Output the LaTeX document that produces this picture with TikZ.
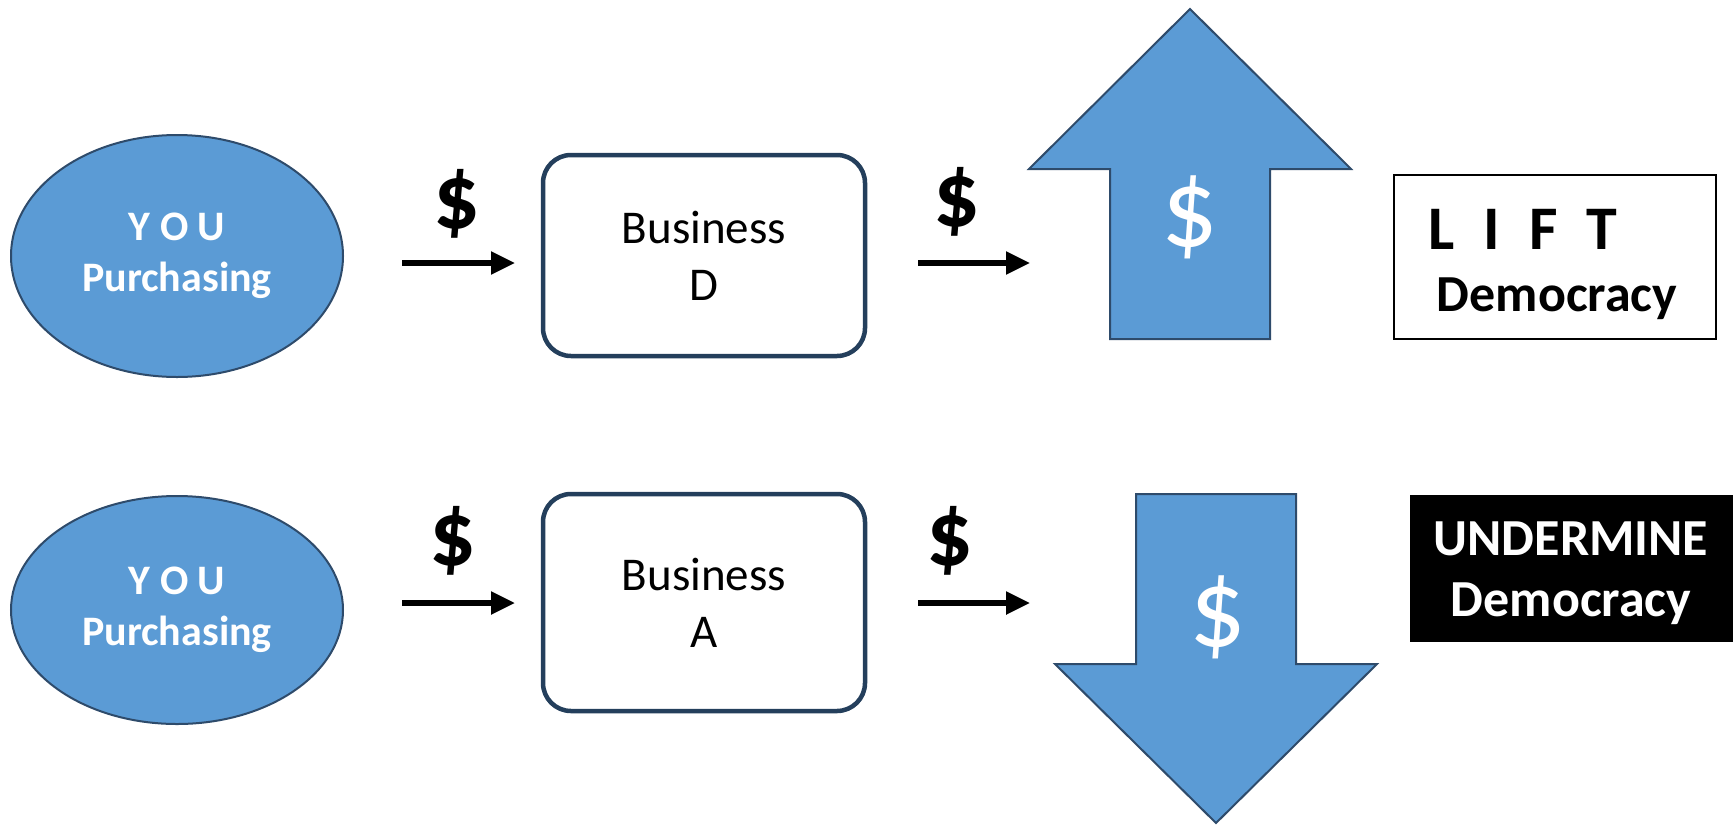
\documentclass[tikz,border=0pt]{standalone}
\usepackage{fontspec}
\setmainfont{Carlito}
\usetikzlibrary{arrows.meta,shapes.geometric}
\definecolor{fillblue}{HTML}{5B9BD5}
\definecolor{edgeblue}{HTML}{2E4B6B}
\definecolor{boxedge}{HTML}{243F5C}
\begin{document}
\begin{tikzpicture}[x=1pt,y=-1pt,
  youell/.style={ellipse,draw=edgeblue,line width=2pt,fill=fillblue,minimum width=332pt,inner sep=0pt,
    text=white,align=center,font=\bfseries\fontsize{42}{51}\selectfont},
  bizbox/.style={draw=boxedge,line width=4.5pt,rounded corners=28pt,fill=white,minimum width=322pt,
    align=center,font=\fontsize{47}{57}\selectfont},
  flow/.style={line width=5.5pt,-{Triangle[length=24pt,width=22pt]}},
  money/.style={inner sep=0pt,font=\bfseries\fontsize{92}{92}\selectfont},
  bigarrow/.style={draw=edgeblue,line width=2pt,fill=fillblue,line join=miter},
  bigmoney/.style={inner sep=0pt,text=white,font=\fontsize{112}{112}\selectfont},
  verdict/.style={font=\bfseries\fontsize{52}{60}\selectfont}
]
\useasboundingbox (0,0) rectangle (1736,825);

% ---- top row ----
\node[youell,minimum height=242pt] (you1) at (177,256) {Y O U\\Purchasing};
\node[bizbox,minimum height=201pt] (bizD) at (704,255.5) {Business\\D};
\coordinate (a1s) at (402,263);
\coordinate (a1e) at (515,263);
\draw[flow] (a1s) -- (a1e);
\node[money] (m1) at (457,204) {\$};
\coordinate (a2s) at (918,263);
\coordinate (a2e) at (1030,263);
\draw[flow] (a2s) -- (a2e);
\node[money] (m2) at (957,202) {\$};
\draw[bigarrow] (1110,339) -- (1110,169) -- (1029,169) -- (1190,9) -- (1351,169) -- (1270,169) -- (1270,339) -- cycle;
\node[bigmoney] (up) at (1190,217) {\$};
\node[draw=black,line width=2.5pt,fill=white,minimum width=322pt,minimum height=164pt] (lift) at (1555,257) {};
\node[verdict,font=\bfseries\fontsize{62}{62}\selectfont] (liftw) at (1523,229) {L\kern 29pt I\kern 29pt F\kern 29pt T};
\node[verdict] (dem1) at (1557,299) {Democracy};

% ---- bottom row ----
\node[youell,minimum height=228pt] (you2) at (177,610) {Y O U\\Purchasing};
\node[bizbox,minimum height=217pt] (bizA) at (704,602.5) {Business\\A};
\coordinate (b1s) at (402,603);
\coordinate (b1e) at (515,603);
\draw[flow] (b1s) -- (b1e);
\node[money] (m3) at (453,541) {\$};
\coordinate (b2s) at (918,603);
\coordinate (b2e) at (1030,603);
\draw[flow] (b2s) -- (b2e);
\node[money] (m4) at (950,541) {\$};
\draw[bigarrow] (1136,494) -- (1296,494) -- (1296,664) -- (1377,664) -- (1216,823) -- (1055,664) -- (1136,664) -- cycle;
\node[bigmoney] (down) at (1218,617) {\$};
\node[fill=black,minimum width=323pt,minimum height=147pt,inner sep=0pt] (under) at (1571.5,568.5) {};
\node[verdict,text=white] (underw) at (1571,539) {UNDERMINE};
\node[verdict,text=white] (dem2) at (1571,604) {Democracy};
\end{tikzpicture}
\end{document}
